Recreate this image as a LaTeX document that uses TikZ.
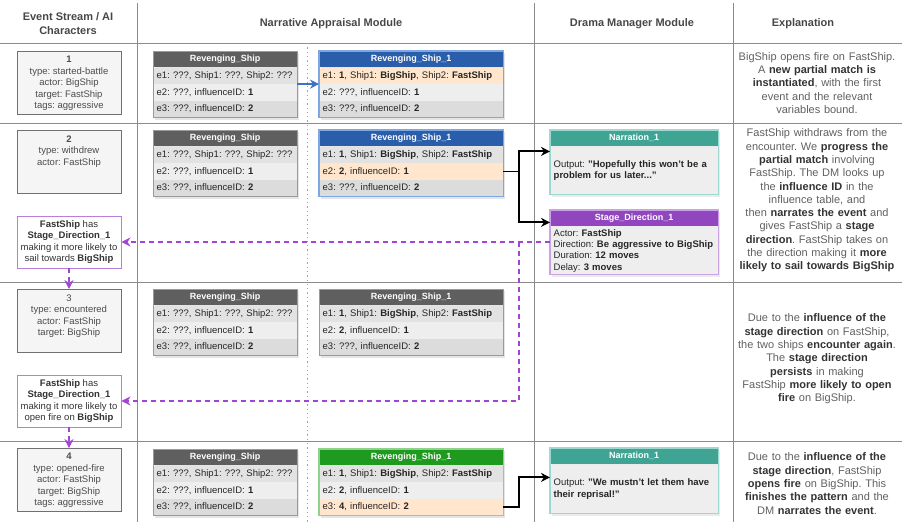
\documentclass[tikz,border=0pt]{standalone}
\usepackage{fontspec}
\setmainfont{Liberation Sans}
\usetikzlibrary{arrows.meta,calc,backgrounds}
\frenchspacing
\definecolor{gridc}{HTML}{8C8C8C}
\definecolor{txt}{HTML}{333333}
\definecolor{expl}{HTML}{606060}
\definecolor{evtxt}{HTML}{4D4D4D}
\definecolor{evfill}{HTML}{F5F5F5}
\definecolor{evdraw}{HTML}{707070}
\definecolor{ghead}{HTML}{5F5F5F}
\definecolor{gborder}{HTML}{9A9A9A}
\definecolor{rA}{HTML}{E2E2E2}
\definecolor{rB}{HTML}{EEEEEE}
\definecolor{rC}{HTML}{DCDCDC}
\definecolor{orng}{HTML}{FFE6CC}
\definecolor{bhead}{HTML}{2A5EAB}
\definecolor{bborder}{HTML}{7EA6E0}
\definecolor{grhead}{HTML}{1E9B1E}
\definecolor{grborder}{HTML}{8FD18B}
\definecolor{thead}{HTML}{3FA493}
\definecolor{tborder}{HTML}{9FD8CE}
\definecolor{phead}{HTML}{9146BF}
\definecolor{pborder}{HTML}{C9A3E3}
\definecolor{pline}{HTML}{A244D4}
\definecolor{notebd}{HTML}{B77FDB}
\definecolor{arrowblue}{HTML}{3A75C4}
\newcommand{\sbf}[1]{{\bfseries\color{txt}#1}}
\newcommand{\evt}[1]{\begin{minipage}[t][53pt][t]{100pt}\centering #1\end{minipage}}
\newcommand{\graybox}[2]{%
  \node[thd, fill=ghead, minimum width=144pt] (#1h) at (153,#2) {Revenging\_Ship};
  \node[trow, gw, fill=rA] (#1a) at (#1h.south west) {e1: ???, Ship1: ???, Ship2: ???};
  \node[trow, gw, fill=rB] (#1b) at (#1a.south west) {e2: ???, influenceID: \textbf{1}};
  \node[trow, gw, fill=rC] (#1c) at (#1b.south west) {e3: ???, influenceID: \textbf{2}};
  \draw[draw=gborder, line width=0.8pt] (#1h.north west) rectangle (#1c.south east);
  \begin{scope}[on background layer]\fill[black, opacity=0.1] ($(#1h.north west)+(2,2)$) rectangle ($(#1c.south east)+(2,2)$);\end{scope}
}
\newcommand{\rsbox}[9]{%
  \node[thd, fill=#3, minimum width=184pt] (#1h) at (319,#2) {Revenging\_Ship\_1};
  \node[trow, bw, fill=#7] (#1a) at (#1h.south west) {e1: \textbf{1}, Ship1: \textbf{BigShip}, Ship2: \textbf{FastShip}};
  \node[trow, bw, fill=#8] (#1b) at (#1a.south west) {#5};
  \node[trow, bw, fill=#9] (#1c) at (#1b.south west) {#6};
  \draw[#4] (#1h.north west) rectangle (#1c.south east);
  \begin{scope}[on background layer]\fill[black, opacity=0.1] ($(#1h.north west)+(2,2)$) rectangle ($(#1c.south east)+(2,2)$);\end{scope}
}
\newcommand{\dmbox}[7]{%
  \node[dmhd, fill=#3] (#1h) at (550,#2) {#5};
  \node[dmbody, minimum height=#7] (#1b) at (#1h.south west) {#6};
  \draw[draw=#4, line width=1.1pt] (#1h.north west) rectangle (#1b.south east);
  \begin{scope}[on background layer]\fill[black, opacity=0.08] ($(#1h.north west)+(2,2)$) rectangle ($(#1b.south east)+(2,2)$);\end{scope}
}
\begin{document}
\begin{tikzpicture}[x=1pt,y=-1pt,
  every node/.style={font=\fontsize{9.5}{11.5}\selectfont, text=txt},
  gridln/.style={draw=gridc, line width=0.9pt},
  dotgrid/.style={draw=gridc!80, line width=0.8pt, dash pattern=on 1.3pt off 3pt},
  hdr/.style={font=\fontsize{11}{14}\selectfont\bfseries, text=txt!90, align=center},
  evbox/.style={draw=evdraw, fill=evfill, line width=0.8pt, anchor=north, inner xsep=2pt, inner ysep=5pt, text=evtxt},
  notebox/.style={draw=notebd, fill=white, line width=0.9pt, minimum width=104pt, minimum height=52pt, align=center, inner sep=1pt},
  thd/.style={anchor=north west, minimum height=16pt, inner sep=0pt, text=white, font=\fontsize{9}{11}\selectfont\bfseries},
  trow/.style={anchor=north west, minimum height=16.3pt, inner ysep=0pt, inner xsep=3.5pt, align=left, text=black!85},
  gw/.style={text width=137pt},
  bw/.style={text width=177pt},
  dmhd/.style={anchor=north west, minimum width=168pt, minimum height=16pt, inner sep=0pt, text=white, font=\fontsize{9}{11}\selectfont\bfseries},
  dmbody/.style={anchor=north west, fill=rB, text width=161pt, inner xsep=3.5pt, inner ysep=2pt, align=left, text=black!85, font=\fontsize{9.5}{11.3}\selectfont},
  expltxt/.style={font=\fontsize{11}{13.3}\selectfont, text=expl, align=center, text width=172pt},
  bluearr/.style={draw=arrowblue, line width=2pt, -{Stealth[length=9pt,width=9pt]}},
  blkarr/.style={draw=black, line width=1.9pt, -{Stealth[length=9pt,width=9pt]}},
  pdash/.style={draw=pline, line width=1.9pt, dash pattern=on 5pt off 4pt, -{Stealth[length=9pt,width=9pt]}}
]
\useasboundingbox (0,0) rectangle (902,522);
% grid
\draw[gridln] (137,3) -- (137,522);
\draw[gridln] (534,3) -- (534,522);
\draw[gridln] (733.5,3) -- (733.5,522);
\foreach \yy in {43,123,282,441} \draw[gridln] (0,\yy) -- (902,\yy);
\draw[dotgrid] (307,43) -- (307,522);
% headers
\node[hdr] (hES) at (68,24) {Event Stream / AI\\Characters};
\node[hdr] (hNA) at (331,24) {Narrative Appraisal Module};
\node[hdr] (hDM) at (632,24) {Drama Manager Module};
\node[hdr] (hEX) at (803,24) {Explanation};
% events
\node[evbox] (ev1) at (69,51) {\evt{\textbf{1}\\type: started-battle\\actor: BigShip\\target: FastShip\\tags: aggressive}};
\node[evbox] (ev2) at (69,130) {\evt{\textbf{2}\\type: withdrew\\actor: FastShip}};
\node[evbox] (ev3) at (69,289) {\evt{3\\type: encountered\\actor: FastShip\\target: BigShip}};
\node[evbox] (ev4) at (69,448) {\evt{\textbf{4}\\type: opened-fire\\actor: FastShip\\target: BigShip\\tags: aggressive}};
% notes
\node[notebox] (note2) at (69,242) {\textbf{FastShip} has\\\textbf{Stage\_Direction\_1}\\making it more likely to\\sail towards \textbf{BigShip}};
\node[notebox] (note3) at (69,401) {\textbf{FastShip} has\\\textbf{Stage\_Direction\_1}\\making it more likely to\\open fire on \textbf{BigShip}};
% tables
\graybox{g1}{51}
\graybox{g2}{130}
\graybox{g3}{289}
\graybox{g4}{449}
\rsbox{b1}{51}{bhead}{{draw=bborder, line width=1.2pt}}{e2: ???, influenceID: \textbf{1}}{e3: ???, influenceID: \textbf{2}}{orng}{rB}{rC}
\rsbox{b2}{130}{bhead}{{draw=bborder, line width=1.2pt}}{e2: \textbf{2}, influenceID: \textbf{1}}{e3: ???, influenceID: \textbf{2}}{rA}{orng}{rC}
\rsbox{b3}{289}{ghead}{{draw=gborder, line width=0.8pt}}{e2: \textbf{2}, influenceID: \textbf{1}}{e3: ???, influenceID: \textbf{2}}{rA}{rB}{rC}
\rsbox{b4}{449}{grhead}{{draw=grborder, line width=1.2pt}}{e2: \textbf{2}, influenceID: \textbf{1}}{e3: \textbf{4}, influenceID: \textbf{2}}{rA}{rB}{orng}
% drama manager
\dmbox{n2}{130}{thead}{tborder}{Narration\_1}{Output: \textbf{"Hopefully this won't be a}\\\textbf{problem for us later..."}}{48pt}
\dmbox{s2}{210}{phead}{pborder}{Stage\_Direction\_1}{\mbox{Actor: \textbf{FastShip}}\\\mbox{Direction: \textbf{Be aggressive to BigShip}}\\\mbox{Duration: \textbf{12 moves}}\\\mbox{Delay: \textbf{3 moves}}}{48pt}
\dmbox{n4}{448}{thead}{tborder}{Narration\_1}{Output: \textbf{"We mustn't let them have}\\\textbf{their reprisal!"}}{49pt}
% explanations
\node[expltxt] (x1) at (817,83) {BigShip opens fire on FastShip.\\A \sbf{new partial match is}\\\sbf{instantiated}, with the first\\event and the relevant\\variables bound.};
\node[expltxt] (x2) at (817,200.5) {FastShip withdraws from the\\encounter. We \sbf{progress the}\\\sbf{partial match} involving\\FastShip. The DM looks up\\the \sbf{influence ID} in the\\influence table, and\\then \sbf{narrates the event} and\\gives FastShip a \sbf{stage}\\\sbf{direction}. FastShip takes on\\the direction making it \sbf{more}\\\sbf{likely to sail towards BigShip}};
\node[expltxt] (x3) at (817,359) {Due to the \sbf{influence of the}\\\sbf{stage direction} on FastShip,\\the two ships \sbf{encounter again}.\\The \sbf{stage direction}\\\sbf{persists} in making\\FastShip \sbf{more likely to open}\\\sbf{fire} on BigShip.};
\node[expltxt] (x4) at (817,483.5) {Due to the \sbf{influence of the}\\\sbf{stage direction}, FastShip\\\sbf{opens fire} on BigShip. This\\\sbf{finishes the pattern} and the\\DM \sbf{narrates the event}.};
% connectors
\draw[bluearr] (g1a.south east) -- (b1a.south west);
\coordinate (j2) at ($(b2b.east)+(16,0)$);
\draw[blkarr] (b2b.east) -- (j2) |- ($(n2h.south west)+(0,5)$);
\draw[blkarr] (j2) |- ($(s2h.south west)+(0,-4)$);
\draw[blkarr] (b4c.east) -- ++(16,0) |- ($(n4h.south west)+(0,13)$);
\draw[pdash] (s2b.west |- note2.east) -- (note2.east);
\draw[pdash] (j2 |- note2.east) -- (j2 |- note3.east) -- (note3.east);
\draw[pdash] (note2.south) -- (ev3.north);
\draw[pdash] (note3.south) -- (ev4.north);
\end{tikzpicture}
\end{document}
